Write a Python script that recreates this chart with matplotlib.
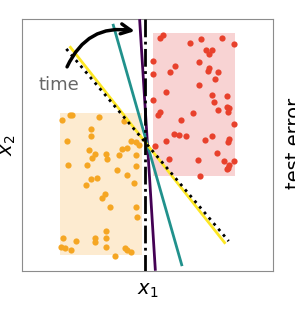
import numpy as np
import matplotlib.pyplot as plt
from matplotlib.patches import Rectangle

plt.rcParams.update({'font.size': 14})

# class samples (x1, x2)
orange_x = [-0.68, -0.62, -0.60, -0.39, -0.45, -0.45, -0.64, -0.19, -0.47, -0.42,
            -0.44, -0.33, -0.32, -0.23, -0.20, -0.16, -0.13, -0.09, -0.07, -0.09,
            -0.63, -0.48, -0.09, -0.24, -0.16, -0.45, -0.40, -0.11, -0.49, -0.36,
            -0.34, -0.30, -0.09, -0.08, -0.33, -0.33, -0.42, -0.42, -0.67, -0.57,
            -0.69, -0.66, -0.61, -0.33, -0.26, -0.18, -0.16, -0.13]
orange_y = [0.20, 0.24, 0.24, 0.22, 0.13, 0.07, 0.03, 0.19, -0.04, -0.07,
            -0.10, -0.07, -0.11, -0.08, -0.03, -0.02, 0.03, 0.02, 0.00, -0.08,
            -0.16, -0.16, -0.17, -0.20, -0.24, -0.27, -0.26, -0.30, -0.32, -0.42,
            -0.39, -0.49, -0.49, -0.57, -0.68, -0.74, -0.74, -0.77, -0.74, -0.76,
            -0.81, -0.82, -0.83, -0.81, -0.88, -0.82, -0.83, -0.85]

red_x = [0.10, 0.12, 0.34, 0.43, 0.59, 0.69, 0.47, 0.51, 0.49, 0.04,
         0.41, 0.22, 0.18, 0.49, 0.48, 0.56, 0.04, 0.54, 0.41, 0.15,
         0.51, 0.63, 0.04, 0.53, 0.10, 0.08, 0.36, 0.56, 0.63, 0.65,
         0.64, 0.27, 0.69, 0.21, 0.25, 0.31, 0.51, 0.46, 0.65, 0.64,
         0.15, 0.06, 0.55, 0.17, 0.40, 0.61, 0.69, 0.65, 0.64, 0.63, 0.42]
red_y = [0.85, 0.87, 0.81, 0.84, 0.85, 0.80, 0.75, 0.75, 0.72, 0.67,
         0.66, 0.63, 0.58, 0.61, 0.59, 0.58, 0.56, 0.52, 0.48, 0.42,
         0.40, 0.39, 0.36, 0.34, 0.26, 0.24, 0.25, 0.28, 0.30, 0.29,
         0.26, 0.20, 0.17, 0.09, 0.08, 0.07, 0.07, 0.04, 0.05, 0.02,
         0.03, -0.01, -0.06, -0.11, -0.12, -0.13, -0.13, -0.16, -0.18, -0.19, -0.25]

# sampling boxes [x0, x1, y0, y1]
orange_box = [-0.70, -0.04, -0.87, 0.25]
red_box = [0.04, 0.70, -0.25, 0.89]

# decision boundary angle from vertical (deg) along training time
time_angles = [3.6, 16.0, 38.4]
init_angle = 40.3      # dotted
maxmargin_angle = 0.0  # dash-dot

fig = plt.figure(figsize=(2.95, 3.19), dpi=100)
ax = fig.add_axes([0.0746, 0.1505, 0.8508, 0.79])

ax.add_patch(Rectangle((orange_box[0], orange_box[2]), orange_box[1] - orange_box[0],
                       orange_box[3] - orange_box[2], color='#fdebd0', zorder=1, lw=0))
ax.add_patch(Rectangle((red_box[0], red_box[2]), red_box[1] - red_box[0],
                       red_box[3] - red_box[2], color='#f8d3d3', zorder=1, lw=0))
ax.scatter(orange_x, orange_y, s=20, c='#f5a623', lw=0, zorder=2)
ax.scatter(red_x, red_y, s=20, c='#e8412c', lw=0, zorder=2)


def seg(angle):
    a = np.deg2rad(angle)
    return [-np.sin(a), np.sin(a)], [np.cos(a), -np.cos(a)]


cols = plt.cm.viridis(np.linspace(0, 1, len(time_angles)))
for ang, c in zip(time_angles, cols):
    xs, ys = seg(ang)
    ax.plot(xs, ys, color=c, lw=2, zorder=3, solid_capstyle='butt')

xs, ys = seg(init_angle)
ax.plot(xs, ys, color='k', ls=':', lw=2, zorder=4)
xs, ys = seg(maxmargin_angle)
ax.plot(np.array(xs) - 0.02, ys, color='k', ls='-.', lw=2, zorder=4)

ax.annotate('', xy=(-0.08, 0.90), xytext=(-0.65, 0.60),
            arrowprops=dict(arrowstyle='->', lw=2.5, color='k', mutation_scale=18,
                            connectionstyle='arc3,rad=-0.4'), zorder=5)
ax.text(-0.71, 0.48, 'time', color='#666666', ha='center', va='center', fontsize=13)

ax.set_xlim(-1, 1)
ax.set_ylim(-1, 1)
ax.set_xticks([])
ax.set_yticks([])
for s in ax.spines.values():
    s.set_color('0.55')
    s.set_linewidth(0.8)
ax.set_xlabel('$x_1$', labelpad=7)
ax.set_ylabel('$x_2$', labelpad=3)

fig.text(285 / 295, 1 - 143 / 319, 'test error', rotation=90, ha='left', va='center')

plt.savefig('out.png', dpi=100)
